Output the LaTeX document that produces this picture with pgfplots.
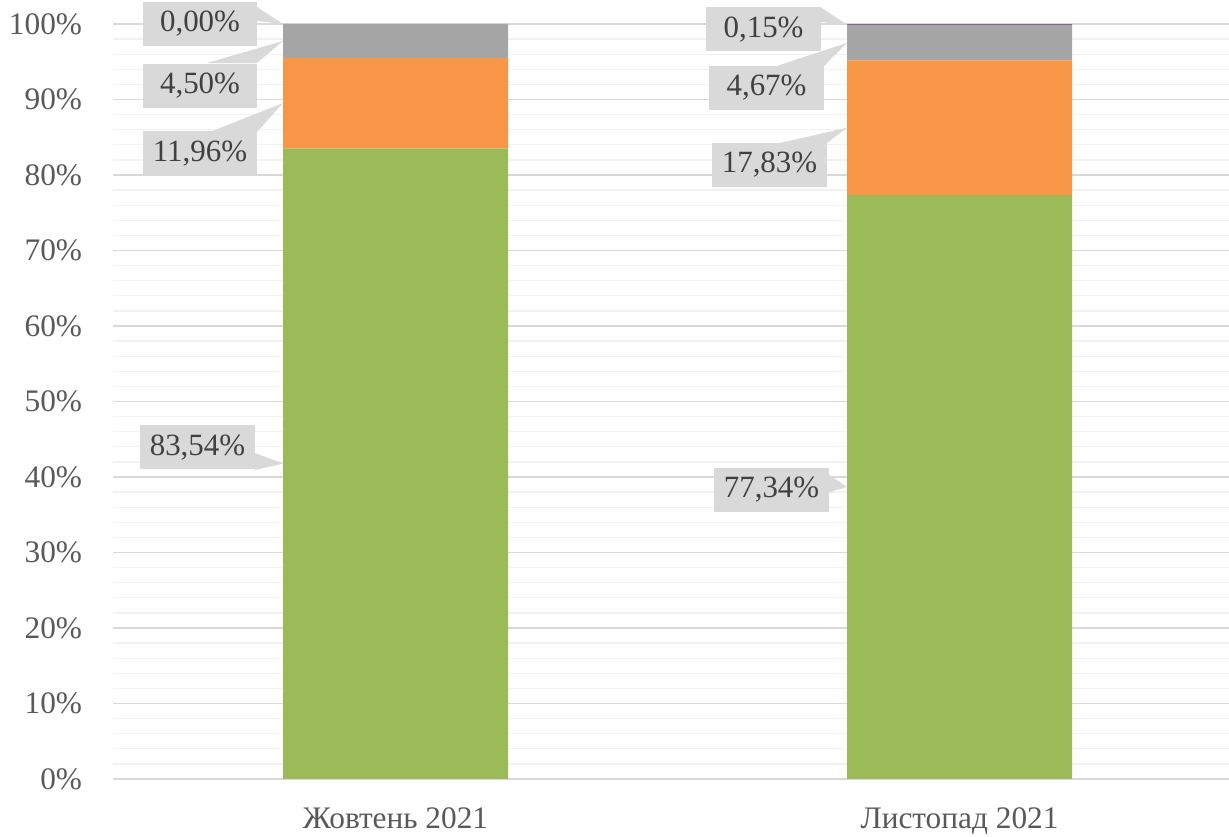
\documentclass[border=0pt]{standalone}
\usepackage{fontspec}
\setmainfont{Liberation Serif}
\usepackage{pgfplots}
\pgfplotsset{compat=1.18}
\usetikzlibrary{calc}
\definecolor{cgreen}{HTML}{9BBB59}
\definecolor{corange}{HTML}{F79646}
\definecolor{cgray}{HTML}{A5A5A5}
\definecolor{cpurple}{HTML}{8064A2}
\definecolor{boxgray}{HTML}{D9D9D9}
\definecolor{majgrid}{HTML}{D9D9D9}
\definecolor{mingrid}{HTML}{F2F2F2}
\definecolor{ticktext}{HTML}{595959}
\definecolor{labtext}{HTML}{404040}
\begin{document}
\begin{tikzpicture}
\begin{axis}[
  scale only axis,
  width=837pt, height=566.25pt,
  ybar stacked, bar width=168.75pt,
  xmin=-0.5009, xmax=1.4778,
  ymin=0, ymax=100,
  xtick={0,1}, xticklabels={Жовтень 2021, Листопад 2021},
  ytick={0,10,...,100},
  yticklabels={0\%,10\%,20\%,30\%,40\%,50\%,60\%,70\%,80\%,90\%,100\%},
  minor ytick={2,4,6,8,12,14,16,18,22,24,26,28,32,34,36,38,42,44,46,48,52,54,56,58,62,64,66,68,72,74,76,78,82,84,86,88,92,94,96,98},
  ymajorgrids, yminorgrids,
  major grid style={majgrid, line width=1.1pt},
  minor grid style={mingrid, line width=1pt},
  axis line style={draw=none},
  axis x line*=bottom,
  x axis line style={majgrid, line width=1.1pt},
  major tick length=0pt, minor tick length=0pt,
  tick style={draw=none},
  tick label style={font=\fontsize{23.5}{28}\selectfont, text=ticktext},
  yticklabel style={inner sep=0pt, anchor=east, xshift=-23pt},
  xticklabel style={inner sep=0pt, anchor=north, yshift=-21.5pt},
  clip=false,
]
\addplot[fill=cgreen, draw=none] coordinates {(0,83.54) (1,77.34)};
\addplot[fill=corange, draw=none] coordinates {(0,11.96) (1,17.83)};
\addplot[fill=cgray, draw=none] coordinates {(0,4.50) (1,4.67)};
\addplot[fill=cpurple, draw=none] coordinates {(0,0.00) (1,0.15)};

% callouts
\tikzset{cbox/.style={fill=boxgray, inner sep=0pt, minimum width=86pt, minimum height=33pt, text=labtext, font=\fontsize{23.2}{28}\selectfont}}
% bar 1
\fill[boxgray] (axis cs:-0.2456,102.25) -- (axis cs:-0.2456,100.4) -- (axis cs:-0.1995,100.0) -- cycle;
\node[cbox] at (axis cs:-0.3466,100.0) {0,00\%};
\fill[boxgray] (axis cs:-0.3342,94.83) -- (axis cs:-0.2456,94.83) -- (axis cs:-0.1995,97.75) -- cycle;
\node[cbox] at (axis cs:-0.3466,91.85) {4,50\%};
\fill[boxgray] (axis cs:-0.3289,85.70) -- (axis cs:-0.2456,85.70) -- (axis cs:-0.1995,89.52) -- cycle;
\node[cbox] at (axis cs:-0.3466,82.85) {11,96\%};
\fill[boxgray] (axis cs:-0.2491,43.18) -- (axis cs:-0.2491,40.93) -- (axis cs:-0.1995,41.77) -- cycle;
\node[cbox] at (axis cs:-0.3511,43.91) {83,54\%};
% bar 2
\fill[boxgray] (axis cs:0.7527,102.25) -- (axis cs:0.7527,100.26) -- (axis cs:0.8005,99.92) -- cycle;
\node[cbox] at (axis cs:0.6525,99.27) {0,15\%};
\fill[boxgray] (axis cs:0.6764,94.44) -- (axis cs:0.7598,94.44) -- (axis cs:0.8005,97.50) -- cycle;
\node[cbox] at (axis cs:0.6578,91.52) {4,67\%};
\fill[boxgray] (axis cs:0.6817,84.24) -- (axis cs:0.7651,84.24) -- (axis cs:0.8005,86.26) -- cycle;
\node[cbox] at (axis cs:0.6631,81.32) {17,83\%};
\fill[boxgray] (axis cs:0.7686,40.3) -- (axis cs:0.7686,38.0) -- (axis cs:0.8005,38.67) -- cycle;
\node[cbox] at (axis cs:0.6667,38.28) {77,34\%};
\end{axis}
\pgfresetboundingbox
\path[use as bounding box] ($(current axis.south west)+(-84.75pt,-43.5pt)$) rectangle ($(current axis.north east)+(0pt,18pt)$);
\end{tikzpicture}
\end{document}
